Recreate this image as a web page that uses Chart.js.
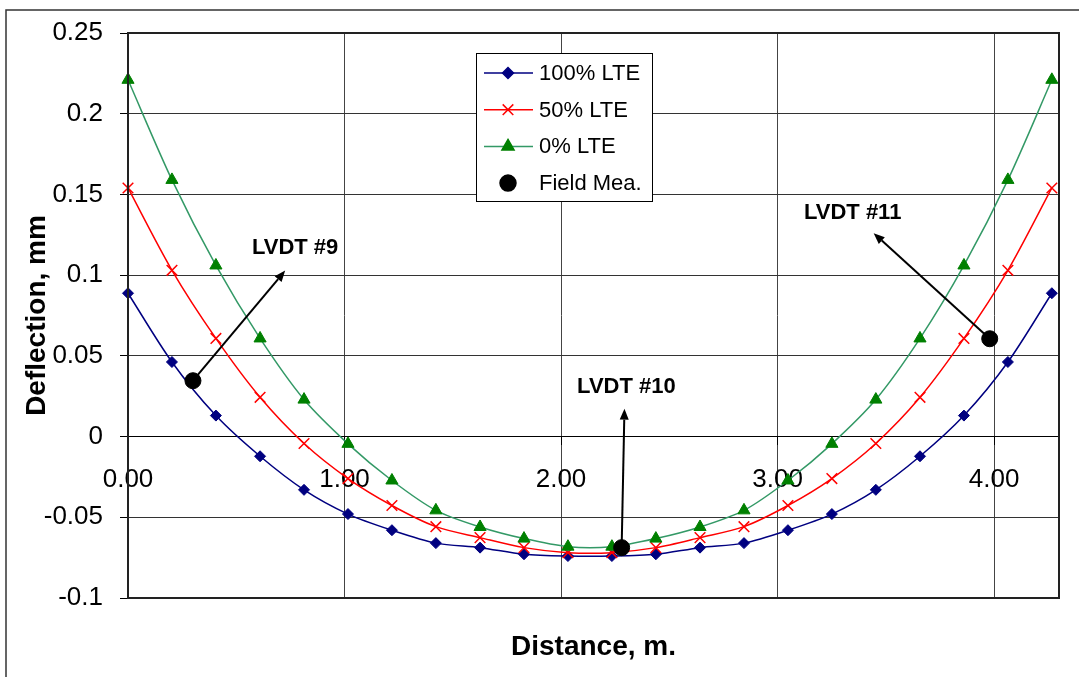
<!DOCTYPE html>
<html>
<head>
<meta charset="utf-8">
<script src="https://cdn.jsdelivr.net/npm/chart.js@4.4.0/dist/chart.umd.min.js"></script>
<style>
body { margin: 0; background: #fff; }
</style>
</head>
<body>
<canvas id="grafica" width="1079" height="677"></canvas>
<script>
// distancia (m) de cada punto de calculo
const distancia = [0, 0.203, 0.406, 0.610, 0.813, 1.016, 1.219, 1.422, 1.626, 1.829, 2.032,
                   2.235, 2.438, 2.642, 2.845, 3.048, 3.251, 3.454, 3.658, 3.861, 4.064, 4.267];
const lte100 = [0.0888, 0.0462, 0.013, -0.0122, -0.033, -0.048, -0.058, -0.066, -0.0688, -0.0729, -0.074,
                -0.074, -0.0729, -0.0688, -0.066, -0.058, -0.048, -0.033, -0.0122, 0.013, 0.0462, 0.0888];
const lte50 = [0.154, 0.103, 0.0608, 0.0243, -0.0043, -0.026, -0.0427, -0.0558, -0.0626, -0.0688, -0.0719,
               -0.0719, -0.0688, -0.0626, -0.0558, -0.0427, -0.026, -0.0043, 0.0243, 0.0608, 0.103, 0.154];
const lte0 = [0.221, 0.159, 0.106, 0.0608, 0.0229, -0.0045, -0.0272, -0.0457, -0.056, -0.0632, -0.0682,
              -0.0682, -0.0632, -0.056, -0.0457, -0.0272, -0.0045, 0.0229, 0.0608, 0.106, 0.159, 0.221];
const campoX = [0.30, 2.28, 3.98];
const campoY = [0.0346, -0.0688, 0.0606];
const xTicks = [0, 1, 2, 3, 4];
const yTicks = [-0.1, -0.05, 0, 0.05, 0.1, 0.15, 0.2, 0.25];
const etiquetas = ['LVDT #9', 'LVDT #10', 'LVDT #11'];

const FUENTE = "'Liberation Sans', Arial, sans-serif";

const puntos = (ys) => distancia.map((x, i) => ({ x: x, y: ys[i] }));

// flechas: desde la medicion de campo hasta la punta, y centro del texto
const flechas = [
    { punta: [0.726, 0.1028], texto: [0.772, 0.1168] },
    { punta: [2.293, 0.0173], texto: [2.302, 0.0309] },
    { punta: [3.444, 0.126], texto: [3.347, 0.1384] }
];

function dibujarFlecha(ctx, x1, y1, x2, y2) {
    const ang = Math.atan2(y2 - y1, x2 - x1);
    const largo = 11, ancho = 4.5;
    const bx = x2 - Math.cos(ang) * largo, by = y2 - Math.sin(ang) * largo;
    ctx.beginPath();
    ctx.moveTo(x1, y1);
    ctx.lineTo(bx, by);
    ctx.stroke();
    ctx.beginPath();
    ctx.moveTo(x2, y2);
    ctx.lineTo(bx - Math.sin(ang) * ancho, by + Math.cos(ang) * ancho);
    ctx.lineTo(bx + Math.sin(ang) * ancho, by - Math.cos(ang) * ancho);
    ctx.closePath();
    ctx.fill();
}

const extras = {
    id: 'extras',
    beforeDraw(chart) {
        const ctx = chart.ctx;
        ctx.save();
        ctx.fillStyle = '#fff';
        ctx.fillRect(0, 0, chart.width, chart.height);
        ctx.strokeStyle = '#333';
        ctx.lineWidth = 1.5;
        ctx.beginPath();
        ctx.moveTo(6, chart.height + 5);
        ctx.lineTo(6, 10);
        ctx.lineTo(chart.width + 5, 10);
        ctx.stroke();
        ctx.restore();
    },
    afterDatasetsDraw(chart) {
        const ctx = chart.ctx;
        const xs = chart.scales.x, ys = chart.scales.y;
        const a = chart.chartArea;
        ctx.save();

        // marco del area de grafica
        ctx.strokeStyle = '#222';
        ctx.lineWidth = 2;
        ctx.strokeRect(a.left, a.top, a.right - a.left, a.bottom - a.top);

        // flechas y textos LVDT
        ctx.strokeStyle = '#000';
        ctx.fillStyle = '#000';
        ctx.lineWidth = 2;
        ctx.font = 'bold 22px ' + FUENTE;
        ctx.textAlign = 'center';
        ctx.textBaseline = 'middle';
        flechas.forEach((f, i) => {
            dibujarFlecha(ctx, xs.getPixelForValue(campoX[i]), ys.getPixelForValue(campoY[i]),
                xs.getPixelForValue(f.punta[0]), ys.getPixelForValue(f.punta[1]));
            ctx.fillText(etiquetas[i], xs.getPixelForValue(f.texto[0]), ys.getPixelForValue(f.texto[1]));
        });

        // leyenda
        ctx.fillStyle = '#fff';
        ctx.fillRect(476, 53, 176, 148);
        ctx.strokeStyle = '#000';
        ctx.lineWidth = 1;
        ctx.strokeRect(476.5, 53.5, 176, 148);
        ctx.font = '22px ' + FUENTE;
        ctx.textAlign = 'left';
        chart.data.datasets.forEach((ds, i) => {
            const y = 73 + i * 36.7;
            if (ds.showLine) {
                ctx.strokeStyle = ds.borderColor;
                ctx.lineWidth = 1.5;
                ctx.beginPath();
                ctx.moveTo(484, y);
                ctx.lineTo(533, y);
                ctx.stroke();
            }
            ctx.fillStyle = ds.pointBackgroundColor;
            ctx.strokeStyle = ds.pointBorderColor;
            Chart.helpers.drawPoint(ctx, {
                pointStyle: ds.pointStyle, radius: ds.pointRadius,
                rotation: 0, borderWidth: ds.pointBorderWidth
            }, 508, y);
            ctx.fillStyle = '#000';
            ctx.fillText(ds.label, 539, y + 1);
        });

        // titulos de ejes
        ctx.font = 'bold 28px ' + FUENTE;
        ctx.textAlign = 'center';
        ctx.fillText('Distance, m.', (a.left + a.right) / 2, 647);
        ctx.translate(37, (a.top + a.bottom) / 2);
        ctx.rotate(-Math.PI / 2);
        ctx.fillText('Deflection, mm', 0, 0);
        ctx.restore();
    }
};

const serie = (label, data, linea, marca, estilo, radio, borde, orden) => ({
    label: label,
    data: puntos(data),
    showLine: true,
    borderColor: linea,
    borderWidth: 1.5,
    tension: 0.3,
    pointStyle: estilo,
    pointRadius: radio,
    pointBackgroundColor: marca,
    pointBorderColor: marca,
    pointBorderWidth: borde,
    clip: false,
    order: orden
});

new Chart(document.getElementById('grafica'), {
    type: 'scatter',
    data: {
        datasets: [
            serie('100% LTE', lte100, '#000080', '#000080', 'rectRot', 5.5, 1, 3),
            serie('50% LTE', lte50, '#ff0000', '#ff0000', 'crossRot', 7.5, 1.5, 2),
            serie('0% LTE', lte0, '#339966', '#008000', 'triangle', 7, 1, 1),
            {
                label: 'Field Mea.',
                data: campoX.map((x, i) => ({ x: x, y: campoY[i] })),
                showLine: false,
                pointStyle: 'circle',
                pointRadius: 8,
                pointBackgroundColor: '#000',
                pointBorderColor: '#000',
                pointBorderWidth: 1,
                clip: false,
                order: 0
            }
        ]
    },
    options: {
        responsive: false,
        animation: false,
        layout: { padding: { left: 0, top: 33, right: 20, bottom: 79 } },
        plugins: { legend: { display: false }, tooltip: { enabled: false } },
        scales: {
            x: {
                type: 'linear',
                position: { y: 0 },
                min: 0,
                max: 4.3,
                afterBuildTicks: (s) => { s.ticks = xTicks.map(v => ({ value: v })); },
                ticks: {
                    callback: (v) => Number(v).toFixed(2),
                    font: { family: FUENTE, size: 26 },
                    color: '#000',
                    padding: 20,
                    maxRotation: 0
                },
                grid: { color: '#444', lineWidth: 1, tickLength: 8, tickColor: '#000' },
                border: { display: true, color: '#000', width: 1 }
            },
            y: {
                min: -0.1,
                max: 0.25,
                afterBuildTicks: (s) => { s.ticks = yTicks.map(v => ({ value: v })); },
                afterFit: (s) => { s.width = 128; },
                ticks: {
                    callback: (v) => String(+Number(v).toFixed(2)),
                    font: { family: FUENTE, size: 26 },
                    color: '#000',
                    padding: 17
                },
                grid: { color: '#333', lineWidth: 1, tickLength: 8, tickColor: '#000' },
                border: { display: true, color: '#000', width: 2 }
            }
        }
    },
    plugins: [extras]
});
</script>
</body>
</html>
